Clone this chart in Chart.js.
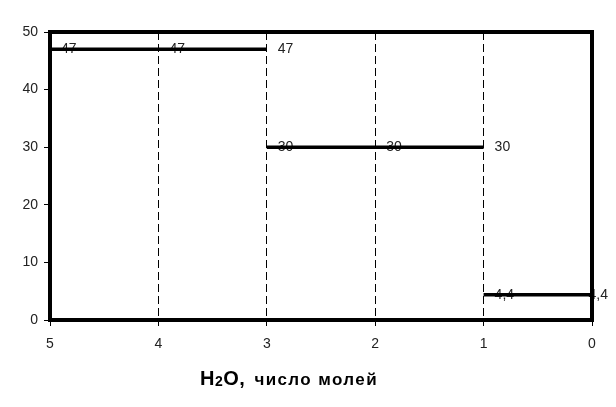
<!DOCTYPE html>
<html>
<head>
<meta charset="utf-8">
<script src="https://cdn.jsdelivr.net/npm/chart.js@4/dist/chart.umd.min.js"></script>
<style>
    body { margin: 0; background: #fff; }
    #wrap { position: relative; width: 616px; height: 407px; }
    #title { position: absolute; left: 200px; top: 368px; line-height: 20px; font-family: "Liberation Sans", Arial, sans-serif; font-weight: bold; color: #000; white-space: nowrap; }
    #title .h { font-size: 20px; letter-spacing: 0.5px; }
    #title .h sub { font-size: 14px; vertical-align: baseline; position: relative; top: 1px; }
    #title .t { font-size: 17px; letter-spacing: 1.4px; margin-left: 9px; }
</style>
</head>
<body>
<div id="wrap">
    <canvas id="chart" width="616" height="407"></canvas>
    <div id="title"><span class="h">H<sub>2</sub>O,</span><span class="t">число молей</span></div>
</div>
<script>
// moles of water (x axis is reversed: 5 on the left, 0 on the right)
var stepX1 = [5, 4, 3];
var stepY1 = [47, 47, 47];
var stepX2 = [3, 2, 1];
var stepY2 = [30, 30, 30];
var stepX3 = [1, 0];
var stepY3 = [4.4, 4.4];
var xTicks = [0, 1, 2, 3, 4, 5];
var yTicks = [0, 10, 20, 30, 40, 50];

var FONT = '"Liberation Sans", Arial, sans-serif';

function toPoints(xs, ys) {
    var pts = [];
    for (var i = 0; i < xs.length; i++) {
        pts.push({ x: xs[i], y: ys[i] });
    }
    return pts;
}

function makeDataset(xs, ys) {
    return {
        data: toPoints(xs, ys),
        borderColor: '#000',
        borderWidth: 3.5,
        pointRadius: 0,
        fill: false,
        tension: 0,
        clip: false
    };
}

// value labels, excel style: to the right of each point, under the line
var labelPlugin = {
    id: 'valueLabels',
    beforeDatasetsDraw: function(chart) {
        var ctx = chart.ctx;
        ctx.save();
        ctx.font = '14px ' + FONT;
        ctx.fillStyle = '#222';
        ctx.textBaseline = 'middle';
        ctx.textAlign = 'left';
        chart.data.datasets.forEach(function(ds, i) {
            var meta = chart.getDatasetMeta(i);
            meta.data.forEach(function(el, j) {
                var text = ds.data[j].y.toString().replace('.', ',');
                var w = ctx.measureText(text).width;
                var x = Math.min(el.x + 11, chart.width - w - 8);
                ctx.fillText(text, x, el.y);
            });
        });
        ctx.restore();
    }
};

// thick frame round the plot area
var framePlugin = {
    id: 'frame',
    afterDatasetsDraw: function(chart) {
        var a = chart.chartArea;
        var ctx = chart.ctx;
        ctx.save();
        ctx.strokeStyle = '#000';
        ctx.lineWidth = 4;
        ctx.strokeRect(a.left, a.top, a.right - a.left, a.bottom - a.top);
        ctx.restore();
    }
};

new Chart(document.getElementById('chart'), {
    type: 'line',
    data: {
        datasets: [
            makeDataset(stepX1, stepY1),
            makeDataset(stepX2, stepY2),
            makeDataset(stepX3, stepY3)
        ]
    },
    plugins: [labelPlugin, framePlugin],
    options: {
        responsive: false,
        animation: false,
        events: [],
        layout: {
            padding: { top: 32, right: 24, left: 0, bottom: 0 }
        },
        plugins: {
            legend: { display: false },
            tooltip: { enabled: false }
        },
        scales: {
            x: {
                type: 'linear',
                reverse: true,
                min: 0,
                max: 5,
                afterFit: function(scale) { scale.height = 87; },
                afterBuildTicks: function(scale) {
                    scale.ticks = xTicks.map(function(v) { return { value: v }; });
                },
                border: { display: false, dash: [8, 4] },
                grid: {
                    color: '#000',
                    lineWidth: 1,
                    drawTicks: true,
                    tickLength: 6,
                    tickColor: '#000',
                    tickBorderDash: []
                },
                ticks: {
                    padding: 10,
                    color: '#222',
                    font: { family: FONT, size: 14 }
                }
            },
            y: {
                min: 0,
                max: 50,
                afterFit: function(scale) { scale.width = 50; },
                afterBuildTicks: function(scale) {
                    scale.ticks = yTicks.map(function(v) { return { value: v }; });
                },
                border: { display: false },
                grid: {
                    drawOnChartArea: false,
                    drawTicks: true,
                    tickLength: 6,
                    tickColor: '#000',
                    color: '#000'
                },
                ticks: {
                    padding: 6,
                    color: '#222',
                    font: { family: FONT, size: 14 }
                }
            }
        }
    }
});
</script>
</body>
</html>
